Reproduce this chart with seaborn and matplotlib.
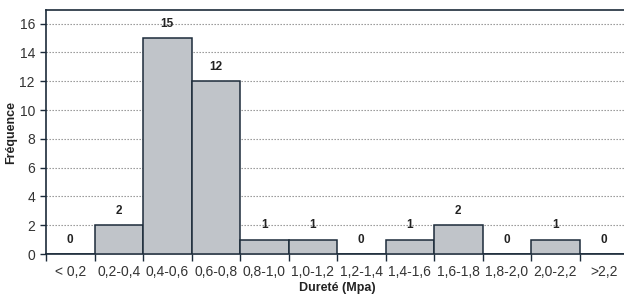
import matplotlib
matplotlib.use("Agg")
import matplotlib.pyplot as plt
import seaborn as sns
import pandas as pd
import numpy as np

categories = ["< 0,2", "0,2-0,4", "0,4-0,6", "0,6-0,8", "0,8-1,0", "1,0-1,2",
              "1,2-1,4", "1,4-1,6", "1,6-1,8", "1,8-2,0", "2,0-2,2", ">2,2"]
frequencies = [0, 2, 15, 12, 1, 1, 0, 1, 2, 0, 1, 0]
y_ticks = [0, 2, 4, 6, 8, 10, 12, 14, 16]

sns.set_theme(style="white")
plt.rcParams['font.family'] = ['Liberation Sans', 'DejaVu Sans']

df = pd.DataFrame({"cat": categories, "freq": frequencies})

fig = plt.figure(figsize=(6.24, 2.94), dpi=100)
ax = fig.add_axes([46/624, 1-254/294, (628-46)/624, (254-10)/294])

edge = "#1c2b3a"
sns.barplot(data=df, x="cat", y="freq", ax=ax, color="#c0c4c9", saturation=1,
            width=1.0, edgecolor=edge, linewidth=1.1, zorder=3)

ax.set_xlim(-0.5, len(categories) - 0.5)
ax.set_ylim(0, 16.95)
ax.set_yticks(y_ticks)
ax.set_yticklabels([str(v) for v in y_ticks], fontsize=10, color="#333333")
ax.yaxis.grid(True, linestyle=(0, (1.2, 1.5)), color="#8a8a8a", linewidth=0.8, zorder=0)
ax.xaxis.grid(False)

# x ticks at boundaries, labels at centres
n = len(categories)
ax.set_xticks(np.arange(n + 1) - 0.5)
ax.set_xticklabels([])
ax.set_xticks(np.arange(n), minor=True)
ax.set_xticklabels(categories, minor=True, fontsize=10, color="#333333")
ax.tick_params(axis="x", which="major", direction="out", length=5, width=1, color=edge, bottom=True)
ax.tick_params(axis="x", which="minor", length=0, pad=8, bottom=True)
ax.tick_params(axis="y", direction="out", length=4, width=1, color=edge, left=True, pad=4)

for s in ["left", "top", "bottom", "right"]:
    ax.spines[s].set_visible(True)
    ax.spines[s].set_color(edge)
    ax.spines[s].set_linewidth(1.2)

for i, v in enumerate(frequencies):
    ax.text(i, v + 1.0, str(v), ha="center", va="center", fontsize=8.5,
            fontweight="bold", color="#222222", zorder=4)

ax.set_xlabel("Dureté (Mpa)", fontsize=9, fontweight="bold", color="#222222", labelpad=2)
ax.set_ylabel("Fréquence", fontsize=9, fontweight="bold", color="#222222")
ax.yaxis.set_label_coords(-0.05, 0.5)

fig.savefig("out.png", dpi=100)
